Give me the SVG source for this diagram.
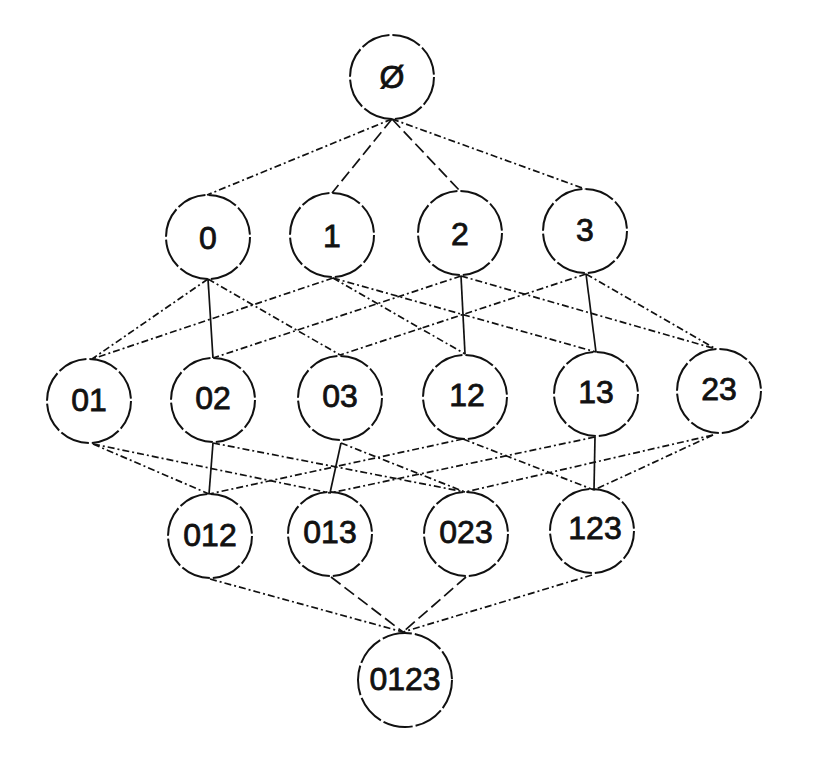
<svg xmlns="http://www.w3.org/2000/svg" width="816" height="762" viewBox="0 0 816 762">
<style>
.n circle{fill:none;stroke:#111;stroke-width:2;stroke-dasharray:30 3}
.n text{font-family:"Liberation Sans",Arial,sans-serif;font-size:32px;fill:#111;stroke:#111;stroke-width:0.8;text-anchor:middle;dominant-baseline:central}
#edges line{stroke:#111;stroke-width:1.7;fill:none}
#edges .s{stroke-dasharray:none}
#edges .d{stroke-dasharray:12 5}
#edges .dd{stroke-dasharray:7 3 2 3}
</style>
<rect width="816" height="762" fill="#fff"/>
<g id="edges">
<line class="dd" x1="392" y1="119" x2="207" y2="195"/>
<line class="d" x1="392" y1="119" x2="332" y2="193"/>
<line class="d" x1="392" y1="119" x2="460" y2="191"/>
<line class="dd" x1="392" y1="119" x2="585" y2="189"/>
<line class="dd" x1="208" y1="279" x2="92" y2="359"/>
<line class="s" x1="208" y1="279" x2="213" y2="358"/>
<line class="dd" x1="208" y1="279" x2="340" y2="355"/>
<line class="dd" x1="333" y1="278" x2="92" y2="359"/>
<line class="dd" x1="333" y1="278" x2="465" y2="354"/>
<line class="dd" x1="333" y1="278" x2="596" y2="352"/>
<line class="dd" x1="461" y1="276" x2="213" y2="358"/>
<line class="s" x1="461" y1="276" x2="465" y2="354"/>
<line class="dd" x1="461" y1="276" x2="716" y2="349"/>
<line class="dd" x1="586" y1="274" x2="340" y2="355"/>
<line class="s" x1="586" y1="274" x2="596" y2="352"/>
<line class="dd" x1="586" y1="274" x2="716" y2="349"/>
<line class="dd" x1="93" y1="444" x2="209" y2="494"/>
<line class="dd" x1="93" y1="444" x2="330" y2="493"/>
<line class="s" x1="213" y1="443" x2="209" y2="494"/>
<line class="dd" x1="213" y1="443" x2="465" y2="492"/>
<line class="s" x1="341" y1="443" x2="330" y2="493"/>
<line class="dd" x1="341" y1="443" x2="465" y2="492"/>
<line class="dd" x1="463" y1="439" x2="209" y2="494"/>
<line class="dd" x1="463" y1="439" x2="594" y2="490"/>
<line class="dd" x1="595" y1="437" x2="330" y2="493"/>
<line class="s" x1="595" y1="437" x2="594" y2="490"/>
<line class="dd" x1="713" y1="435" x2="465" y2="492"/>
<line class="dd" x1="713" y1="435" x2="594" y2="490"/>
<line class="dd" x1="210" y1="579" x2="403" y2="632"/>
<line class="d" x1="331" y1="577" x2="403" y2="632"/>
<line class="d" x1="466" y1="577" x2="403" y2="632"/>
<line class="dd" x1="592" y1="575" x2="403" y2="632"/>
</g>
<g id="n_empty" class="n"><circle cx="392" cy="77" r="42"/><text x="392" y="77">Ø</text></g>
<g id="n_0" class="n"><circle cx="208" cy="237" r="42"/><text x="208" y="238">0</text></g>
<g id="n_1" class="n"><circle cx="332" cy="235" r="42"/><text x="332" y="236">1</text></g>
<g id="n_2" class="n"><circle cx="460" cy="233" r="42"/><text x="460" y="234">2</text></g>
<g id="n_3" class="n"><circle cx="585" cy="231" r="42"/><text x="585" y="230">3</text></g>
<g id="n_01" class="n"><circle cx="89" cy="401" r="42"/><text x="89" y="400">01</text></g>
<g id="n_02" class="n"><circle cx="213" cy="400" r="42"/><text x="213" y="398">02</text></g>
<g id="n_03" class="n"><circle cx="340" cy="398" r="42"/><text x="340" y="396">03</text></g>
<g id="n_12" class="n"><circle cx="465" cy="397" r="42"/><text x="467" y="395">12</text></g>
<g id="n_13" class="n"><circle cx="596" cy="394" r="42"/><text x="596" y="392">13</text></g>
<g id="n_23" class="n"><circle cx="719" cy="391" r="42"/><text x="719" y="389">23</text></g>
<g id="n_012" class="n"><circle cx="210" cy="536" r="42"/><text x="210" y="535">012</text></g>
<g id="n_013" class="n"><circle cx="330" cy="534" r="42"/><text x="330" y="532">013</text></g>
<g id="n_023" class="n"><circle cx="466" cy="534" r="42"/><text x="466" y="532">023</text></g>
<g id="n_123" class="n"><circle cx="592" cy="531" r="42"/><text x="595" y="528">123</text></g>
<g id="n_0123" class="n"><circle cx="405" cy="680" r="47"/><text x="405" y="679">0123</text></g>
</svg>
